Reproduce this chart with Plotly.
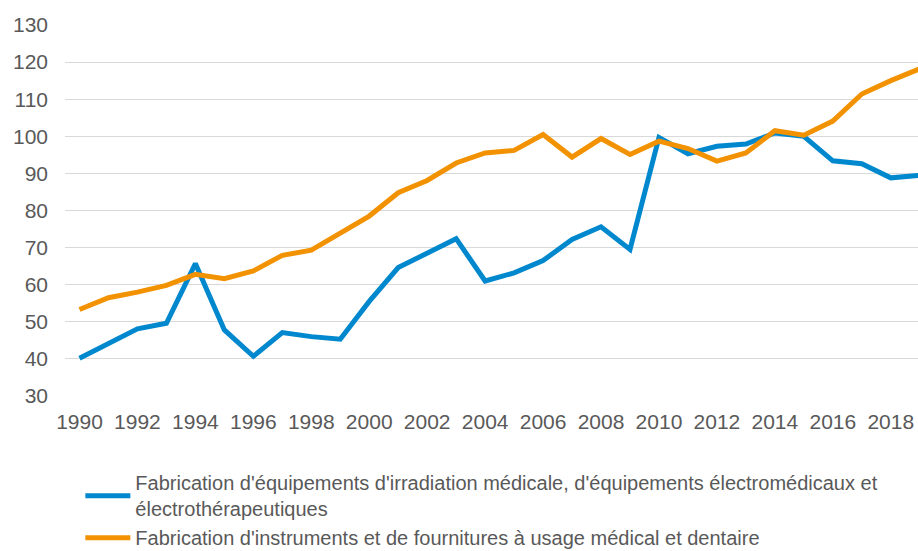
import plotly.graph_objects as go

years = list(range(1990, 2020))
irradiation = [40.2, 44.3, 48.1, 49.6, 65.7, 47.8, 40.7, 47.1, 46.0, 45.3,
               55.5, 64.6, 68.5, 72.4, 61.0, 63.2, 66.5, 72.2, 75.6, 69.5,
               99.7, 95.3, 97.3, 97.9, 100.9, 100.0, 93.4, 92.6, 88.8, 89.5]
instruments = [53.3, 56.5, 58.0, 59.8, 62.8, 61.6, 63.7, 67.9, 69.3, 73.8,
               78.5, 84.8, 88.1, 92.8, 95.5, 96.2, 100.5, 94.4, 99.4, 95.1,
               98.7, 96.7, 93.3, 95.5, 101.5, 100.3, 104.1, 111.4, 115.0, 118.2]
names = ["Fabrication d'équipements d'irradiation médicale, d'équipements électromédicaux et<br>électrothérapeutiques",
         "Fabrication d'instruments et de fournitures à usage médical et dentaire"]
colors = ["#0088ce", "#f39200"]
tick_years = list(range(1990, 2019, 2))
y_ticks = list(range(30, 131, 10))

fig = go.Figure()
for vals, name, col in zip([irradiation, instruments], names, colors):
    fig.add_trace(go.Scatter(x=years, y=vals, mode="lines", name=name,
                             line=dict(color=col, width=5)))

font = dict(family="Liberation Sans, Arial, sans-serif", color="#595959")
fig.update_layout(
    width=918, height=551,
    margin=dict(l=65, r=0, t=25, b=155, autoexpand=False),
    plot_bgcolor="white", paper_bgcolor="white",
    font=dict(**font, size=21),
    xaxis=dict(range=[1989.5, 2018.94], tickvals=tick_years,
               ticktext=[str(y) for y in tick_years], showgrid=False,
               showline=False, zeroline=False, ticks="", tickfont=dict(size=21),
               ticklabelstandoff=11),
    yaxis=dict(range=[30, 130], tickvals=y_ticks, showgrid=True,
               gridcolor="#d9d9d9", gridwidth=1, zeroline=False, ticks="",
               tickfont=dict(size=21), ticklabelstandoff=16),
    legend=dict(orientation="v", x=0.018, xanchor="left", y=-0.181, yanchor="top",
                font=dict(size=20, color="#595959"), tracegroupgap=0,
                itemwidth=45, bgcolor="rgba(0,0,0,0)"),
    showlegend=True,
)
fig.write_html("out.html", config={"displayModeBar": False},
               post_script="document.body.style.margin='0';document.body.style.overflow='hidden';")
